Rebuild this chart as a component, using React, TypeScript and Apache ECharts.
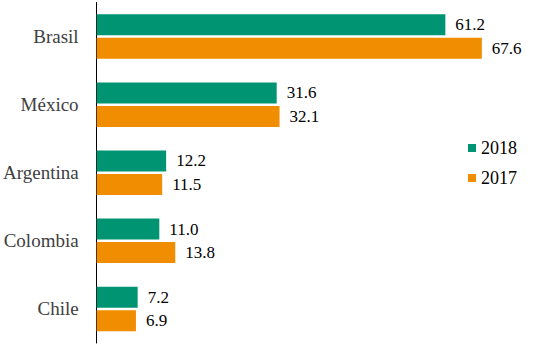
import React, { useEffect, useRef } from "react";
import * as echarts from "echarts";

const categories = ["Brasil", "México", "Argentina", "Colombia", "Chile"];
const values2018 = [61.2, 31.6, 12.2, 11.0, 7.2];
const values2017 = [67.6, 32.1, 11.5, 13.8, 6.9];
const seriesNames = ["2018", "2017"];

const FONT = "Liberation Serif, serif";

export default function App() {
  const ref = useRef<HTMLDivElement>(null);
  useEffect(() => {
    const chart = echarts.init(ref.current!, undefined, { renderer: "svg" });
    const label = {
      show: true,
      position: "right",
      distance: 10,
      color: "#000",
      fontFamily: FONT,
      fontSize: 17,
      formatter: (p: any) => Number(p.value).toFixed(1),
    };
    chart.setOption({
      animation: false,
      backgroundColor: "#fff",
      textStyle: { fontFamily: FONT },
      grid: { left: 95, top: 2.5, width: 429, height: 340.5 },
      legend: {
        orient: "vertical",
        left: 463,
        top: 134,
        itemWidth: 8,
        itemHeight: 8,
        itemGap: 12,
        icon: "rect",
        data: seriesNames,
        textStyle: { fontFamily: FONT, fontSize: 18, color: "#000" },
      },
      xAxis: {
        type: "value",
        min: 0,
        max: 75,
        show: false,
        splitLine: { show: false },
      },
      yAxis: {
        type: "category",
        data: categories,
        inverse: true,
        axisLine: { show: true, lineStyle: { color: "#000", width: 1 } },
        axisTick: { show: false },
        axisLabel: {
          margin: 18,
          fontFamily: FONT,
          fontSize: 19,
          color: "#404040",
        },
      },
      series: [
        {
          name: seriesNames[0],
          type: "bar",
          data: values2018,
          barWidth: 21,
          barGap: "12%",
          itemStyle: { color: "#009473" },
          label,
        },
        {
          name: seriesNames[1],
          type: "bar",
          data: values2017,
          barWidth: 21,
          barGap: "12%",
          itemStyle: { color: "#F18D00" },
          label,
        },
      ],
    });
    return () => chart.dispose();
  }, []);
  return <div ref={ref} style={{ width: 549, height: 353, position: "absolute", left: 0, top: 0 }} />;
}
